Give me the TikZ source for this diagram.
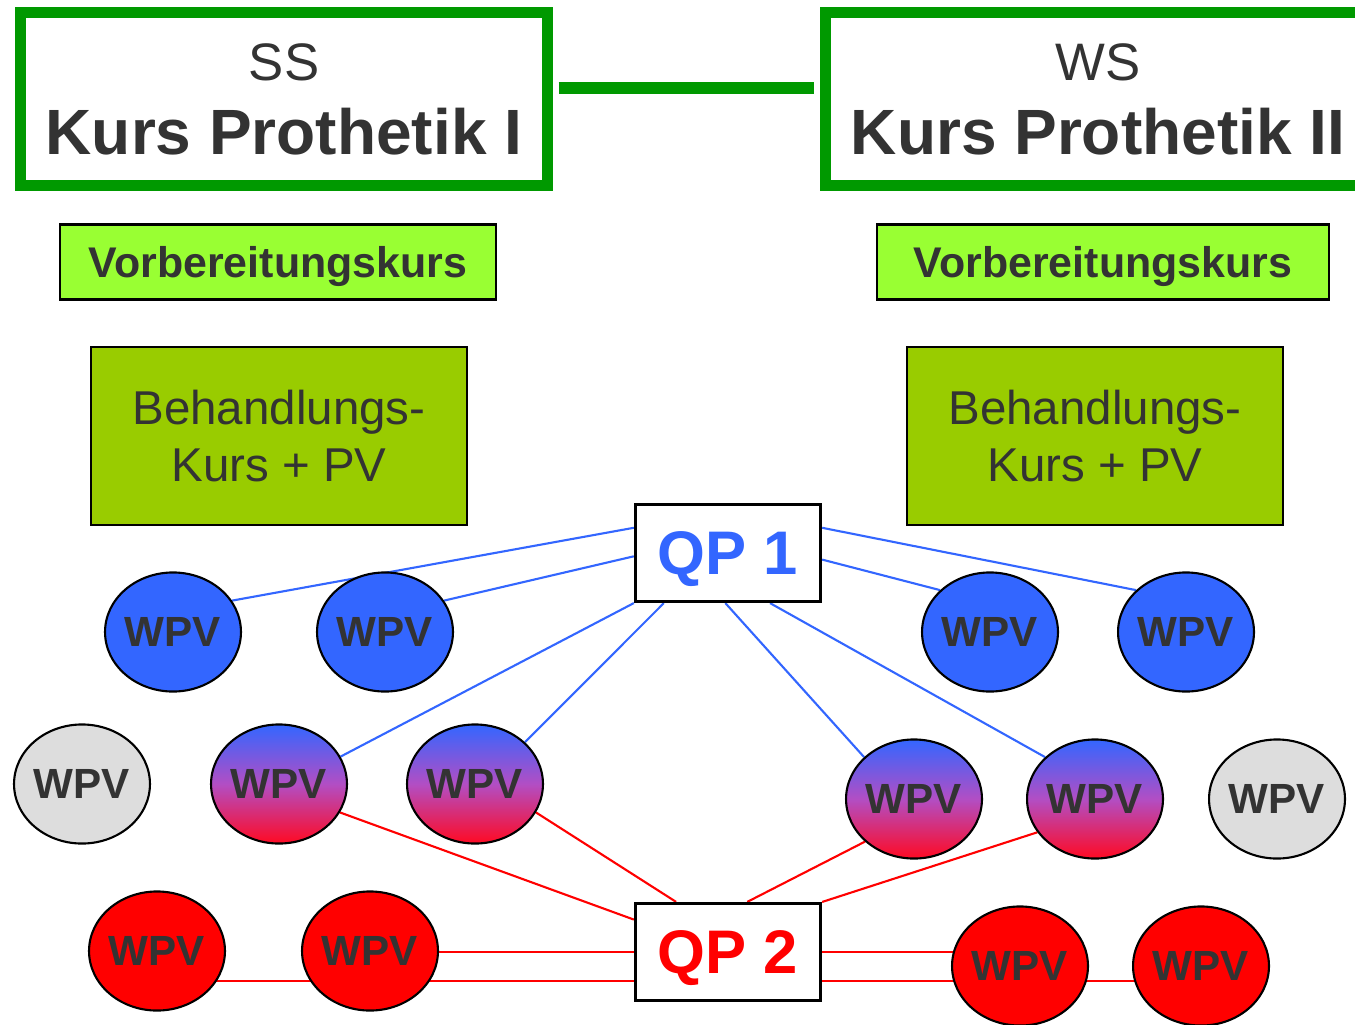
\documentclass[tikz,border=0pt]{standalone}
\usepackage{fontspec}
\setmainfont{Liberation Sans}
\usepackage{tikz}
\usetikzlibrary{positioning}
\usetikzlibrary{shapes}
\definecolor{kursgreen}{RGB}{0,153,0}
\definecolor{vorgreen}{RGB}{153,255,51}
\definecolor{behgreen}{RGB}{153,204,0}
\definecolor{qpblue}{RGB}{51,102,255}
\definecolor{qpred}{RGB}{255,0,0}
\definecolor{mixmid}{RGB}{178,78,196}
\definecolor{mixred}{RGB}{255,10,35}
\definecolor{wpvgray}{RGB}{221,221,221}
\definecolor{txtgray}{RGB}{51,51,51}
\pgfdeclarelayer{bg}
\pgfsetlayers{bg,main}

\begin{document}
\begin{tikzpicture}[x=0.01cm, y=-0.01cm]
			\tikzstyle{kurs}=[draw=kursgreen, line width=3.1pt, fill=white, align=center, text=txtgray, minimum height=1.72cm, font=\fontsize{18.2}{21}\selectfont\bfseries]
			\tikzstyle{vorb}=[draw=black, line width=0.6pt, fill=vorgreen, text=txtgray, minimum height=0.75cm, text depth=0pt, font=\fontsize{12.2}{14}\selectfont\bfseries]
			\tikzstyle{behand}=[draw=black, line width=0.6pt, fill=behgreen, text=txtgray, align=center, minimum width=3.76cm, minimum height=1.78cm, font=\fontsize{13.5}{16}\selectfont]
			\tikzstyle{qp}=[draw=black, line width=0.9pt, fill=white, minimum width=1.85cm, minimum height=0.97cm, text depth=0pt, font=\fontsize{17.5}{20}\selectfont\bfseries]
			\tikzstyle{wpv}=[ellipse, draw=black, line width=0.6pt, text=txtgray, minimum width=1.35cm, minimum height=1.19cm, inner sep=0pt, font=\fontsize{12}{14}\selectfont\bfseries]
			\tikzstyle{wpvblue}=[wpv, fill=qpblue]
			\tikzstyle{wpvred}=[wpv, fill=qpred]
			\tikzstyle{wpvgrey}=[wpv, fill=wpvgray]
			\tikzstyle{wpvmix}=[wpv, top color=qpblue, bottom color=mixred, middle color=mixmid]
			\tikzstyle{blueline}=[qpblue, line width=0.6pt]
			\tikzstyle{redline}=[qpred, line width=0.6pt]
			
			\useasboundingbox (0,0) rectangle (1355,1024);
			
			\draw node at (284, 99) [kurs, minimum width=5.27cm] (ss) {{\fontsize{15}{18}\selectfont\mdseries SS}\\Kurs Prothetik I};
			\draw node at (1098, 99) [kurs, minimum width=5.45cm] (ws) {{\fontsize{15}{18}\selectfont\mdseries WS}\\Kurs Prothetik II};
			\draw [kursgreen, line width=3.3pt, shorten <=1.6pt, shorten >=1.6pt] ([yshift=0.11cm]ss.east) to ([yshift=0.11cm]ws.west);
			
			\draw node at (278, 262) [vorb, minimum width=4.36cm] (vor1) {Vorbereitungskurs};
			\draw node at (1103, 262) [vorb, minimum width=4.51cm] (vor2) {Vorbereitungskurs};
			\draw node at (279, 436) [behand] (beh1) {Behandlungs-\\Kurs + PV};
			\draw node at (1095, 436) [behand] (beh2) {Behandlungs-\\Kurs + PV};
			
			\draw node at (728, 553) [qp, text=qpblue] (qp1) {QP 1};
			\draw node at (728, 952) [qp, text=qpred] (qp2) {QP 2};
			
			\draw node at (173, 632) [wpvblue] (b1) {WPV};
			\draw node at (385, 632) [wpvblue] (b2) {WPV};
			\draw node at (990, 632) [wpvblue] (b3) {WPV};
			\draw node at (1186, 632) [wpvblue] (b4) {WPV};
			
			\draw node at (82, 784) [wpvgrey] (g1) {WPV};
			\draw node at (279, 784) [wpvmix] (m1) {WPV};
			\draw node at (475, 784) [wpvmix] (m2) {WPV};
			\draw node at (914, 799) [wpvmix] (m3) {WPV};
			\draw node at (1095, 799) [wpvmix] (m4) {WPV};
			\draw node at (1277, 799) [wpvgrey] (g2) {WPV};
			
			\draw node at (157, 951) [wpvred] (r1) {WPV};
			\draw node at (370, 951) [wpvred] (r2) {WPV};
			\draw node at (1020, 966) [wpvred] (r3) {WPV};
			\draw node at (1201, 966) [wpvred] (r4) {WPV};
			
			% Verbindungen hinter den Ellipsen
			\begin{pgfonlayer}{bg}
			\draw [blueline] (qp1.165) to (b1.28);
			\draw [blueline] (qp1.182) to (b2.28);
			\draw [blueline] (qp1.208) to (m1.24);
			\draw [blueline] (qp1.218) to (m2.40);
			\draw [blueline] (qp1.15) to (b4.140);
			\draw [blueline] (qp1.-4) to (b3.140);
			\draw [blueline] (qp1.-93) to (m3.140);
			\draw [blueline] (qp1.-50) to (m4.140);
			
			\draw [redline] (m1.-25) to (qp2.161);
			\draw [redline] (m2.-25) to (qp2.136);
			\draw [redline] (m3.221) to (qp2.69);
			\draw [redline] (m4.210) to (qp2.28);
			\draw [redline] (qp2.west) to (qp2.west -| r2);
			\draw [redline] (qp2.east) to (qp2.east -| r3);
			\coordinate (lo1) at ([yshift=-0.29cm]qp2.west);
			\coordinate (lo2) at ([yshift=-0.29cm]qp2.east);
			\draw [redline] (lo1) to (lo1 -| r1);
			\draw [redline] (lo2) to (lo2 -| r4);
			\end{pgfonlayer}
\end{tikzpicture}
\end{document}
